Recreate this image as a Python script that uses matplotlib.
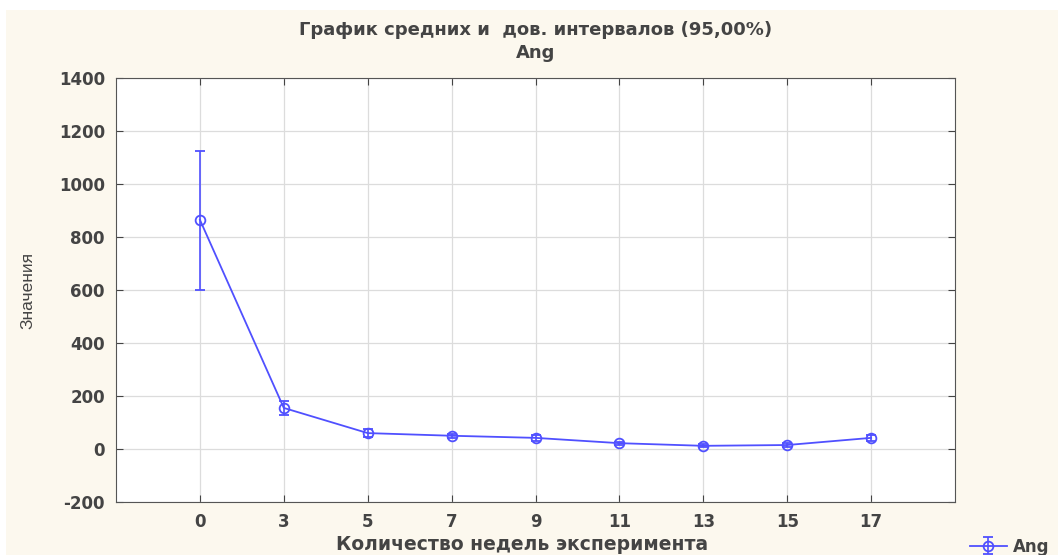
import matplotlib.pyplot as plt
import matplotlib.patches as mpatches
import numpy as np

plt.rcParams['font.family'] = ['DejaVu Sans']
plt.rcParams['axes.unicode_minus'] = False

weeks = ['0', '3', '5', '7', '9', '11', '13', '15', '17']
means = [865, 155, 60, 50, 42, 22, 12, 15, 42]
lower = [600, 130, 45, 42, 32, 16, 7, 9, 30]
upper = [1125, 180, 75, 58, 52, 28, 17, 21, 54]

blue = '#5050ff'
txt = '#444444'

fig = plt.figure(figsize=(10.58, 5.55), dpi=100, facecolor='white')
# cream background like the STATISTICA window
fig.patches.append(mpatches.Rectangle((6/1058, 0), 1, 1 - 10/555, transform=fig.transFigure,
                                      facecolor='#fcf8ee', edgecolor='none', zorder=-10))
ax = fig.add_axes([116/1058, 1 - 502/555, (955-116)/1058, (502-78)/555])
ax.set_facecolor('white')

x = np.arange(len(weeks))
m = np.array(means)
err = [m - np.array(lower), np.array(upper) - m]
ax.errorbar(x, m, yerr=err, color=blue, lw=1.3, marker='o', mfc='none', mec=blue,
            ms=7, mew=1.3, capsize=3.5, elinewidth=1.2, label='Ang')

ax.set_xlim(-1, 9)
ax.set_ylim(-200, 1400)
ax.set_xticks(x)
ax.set_xticklabels(weeks)
ax.set_yticks(np.arange(-200, 1401, 200))
ax.grid(True, color='#dcdcdc', lw=0.9)
ax.set_axisbelow(True)
ax.tick_params(direction='in', top=True, right=True, length=5, labelsize=12, pad=8,
               color='#444444', labelcolor=txt)
for lab in ax.get_xticklabels() + ax.get_yticklabels():
    lab.set_fontweight('bold')
for s in ax.spines.values():
    s.set_color('#555555')

fig.text(536/1058, 1 - 30/555, 'График средних и  дов. интервалов (95,00%)',
         ha='center', va='center', fontsize=13, color=txt, fontweight='bold')
fig.text(536/1058, 1 - 53/555, 'Ang', ha='center', va='center', fontsize=13, color=txt,
         fontweight='bold')
fig.text(522/1058, 1 - 545/555, 'Количество недель эксперимента', ha='center', va='center',
         fontsize=13.5, color=txt, fontweight='bold')
fig.text(28/1058, 1 - 290/555, 'Значения', ha='center', va='center', rotation=90,
         fontsize=12.5, color=txt, family=['Liberation Sans Narrow', 'Liberation Sans', 'DejaVu Sans'])

fig.legend(loc='lower left', bbox_to_anchor=(955/1058, -0.028), frameon=False,
           handlelength=2.2, handletextpad=0.4, prop={'size': 12, 'weight': 'bold'},
           labelcolor=txt)

fig.savefig('out.png', dpi=100, facecolor=fig.get_facecolor())
